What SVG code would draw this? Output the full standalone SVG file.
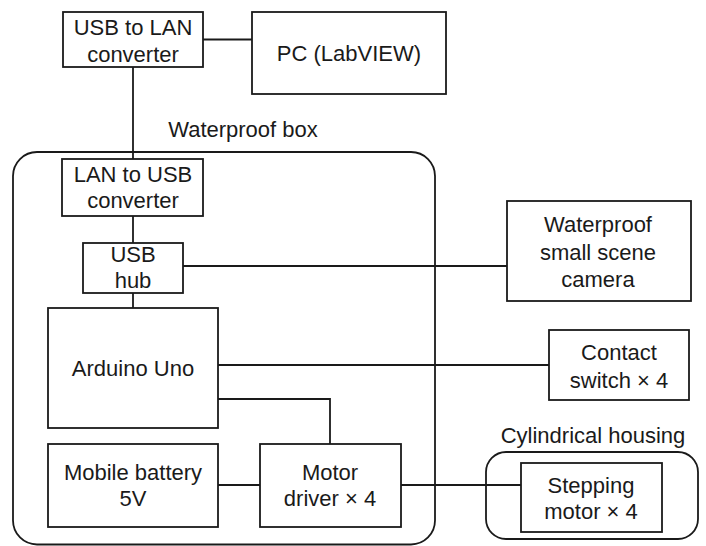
<svg xmlns="http://www.w3.org/2000/svg" width="706" height="546" viewBox="0 0 706 546">
  <style>
    .box { fill: #ffffff; stroke: #1a1a1a; stroke-width: 1.8; }
    .frame { fill: none; stroke: #1a1a1a; stroke-width: 1.8; }
    .wire { fill: none; stroke: #1a1a1a; stroke-width: 1.8; }
    text { font-family: "Liberation Sans", Arial, sans-serif; font-size: 22px; fill: #1a1a1a; text-anchor: middle; }
  </style>
  <rect width="706" height="546" fill="#ffffff"/>

  <!-- Enclosures -->
  <g id="waterproof-box">
    <rect class="frame" x="13" y="152" width="422" height="392.5" rx="24"/>
    <text x="243" y="137">Waterproof box</text>
  </g>
  <g id="cylindrical-housing">
    <rect class="frame" x="486" y="452" width="212" height="87" rx="20"/>
    <text x="593" y="443">Cylindrical housing</text>
  </g>

  <!-- Connectors -->
  <g id="connectors">
    <path class="wire" d="M203 39.5 H252"/>
    <path class="wire" d="M133 67 V159"/>
    <path class="wire" d="M133 216 V243"/>
    <path class="wire" d="M183 266 H507"/>
    <path class="wire" d="M133 293 V308"/>
    <path class="wire" d="M218 365 H549"/>
    <path class="wire" d="M218 399 H330 V444"/>
    <path class="wire" d="M218 485 H260"/>
    <path class="wire" d="M401 485 H521"/>
  </g>

  <!-- Nodes -->
  <g id="usb-to-lan">
    <rect class="box" x="63" y="12" width="140" height="55"/>
    <text x="133" y="35">USB to LAN</text>
    <text x="133" y="62">converter</text>
  </g>
  <g id="pc">
    <rect class="box" x="252" y="12" width="194" height="82"/>
    <text x="349" y="61">PC (LabVIEW)</text>
  </g>
  <g id="lan-to-usb">
    <rect class="box" x="62" y="159" width="141" height="57"/>
    <text x="133" y="182">LAN to USB</text>
    <text x="133" y="208">converter</text>
  </g>
  <g id="usb-hub">
    <rect class="box" x="83" y="243" width="100" height="50"/>
    <text x="133" y="262">USB</text>
    <text x="133" y="288">hub</text>
  </g>
  <g id="arduino">
    <rect class="box" x="48" y="308" width="170" height="120"/>
    <text x="133" y="376">Arduino Uno</text>
  </g>
  <g id="battery">
    <rect class="box" x="48" y="444" width="170" height="83"/>
    <text x="133" y="480">Mobile battery</text>
    <text x="133" y="506">5V</text>
  </g>
  <g id="motor-driver">
    <rect class="box" x="260" y="444" width="141" height="83"/>
    <text x="330" y="480">Motor</text>
    <text x="330" y="506">driver × 4</text>
  </g>
  <g id="camera">
    <rect class="box" x="507" y="201" width="184" height="100"/>
    <text x="598" y="232">Waterproof</text>
    <text x="598" y="260">small scene</text>
    <text x="598" y="287">camera</text>
  </g>
  <g id="contact-switch">
    <rect class="box" x="549" y="330" width="140" height="70"/>
    <text x="619" y="360">Contact</text>
    <text x="619" y="388">switch × 4</text>
  </g>
  <g id="stepping-motor">
    <rect class="box" x="521" y="463" width="141" height="69"/>
    <text x="591" y="493">Stepping</text>
    <text x="591" y="519">motor × 4</text>
  </g>
</svg>
